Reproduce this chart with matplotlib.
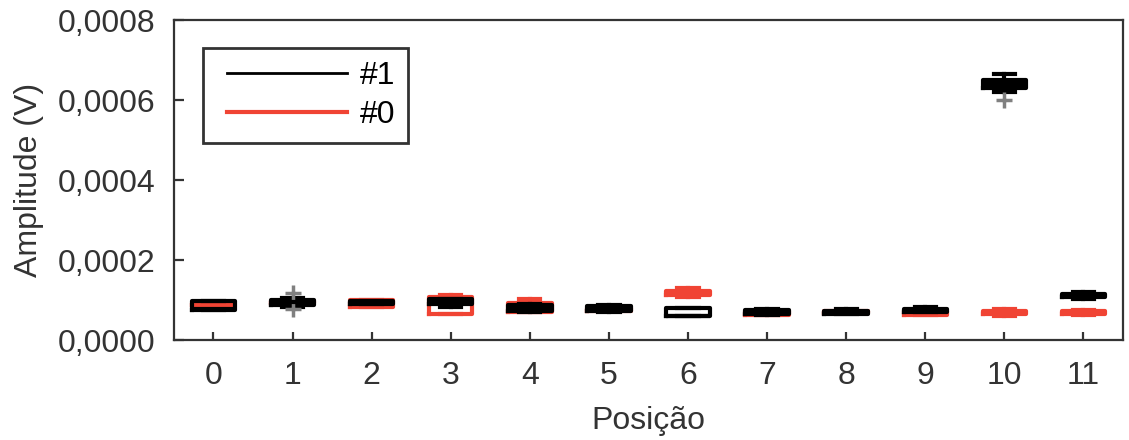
import matplotlib
matplotlib.use("Agg")
import numpy as np
import matplotlib.pyplot as plt
from matplotlib.lines import Line2D
from matplotlib.legend_handler import HandlerLine2D
from matplotlib.ticker import FuncFormatter

positions = list(range(12))
xtick_labels = [str(p) for p in positions]
yticks = [0.0, 0.0002, 0.0004, 0.0006, 0.0008]

# Series "#1" (black)
q1_s1 = [7.6e-5, 8.9e-5, 9.0e-5, 9.0e-5, 7.25e-5, 7.25e-5, 6.0e-5, 6.5e-5, 6.6e-5, 7.0e-5, 6.29e-4, 1.075e-4]
med_s1 = [7.8e-5, 9.5e-5, 9.4e-5, 9.6e-5, 8.0e-5, 7.9e-5, 6.0e-5, 7.0e-5, 7.0e-5, 7.3e-5, 6.40e-4, 1.11e-4]
q3_s1 = [9.9e-5, 1.0e-4, 9.75e-5, 1.03e-4, 8.75e-5, 8.5e-5, 8.0e-5, 7.5e-5, 7.4e-5, 7.75e-5, 6.51e-4, 1.15e-4]
lo_s1 = [7.6e-5, 8.4e-5, 9.0e-5, 8.4e-5, 7.0e-5, 7.0e-5, 6.0e-5, 6.2e-5, 6.6e-5, 7.0e-5, 6.19e-4, 1.03e-4]
hi_s1 = [9.9e-5, 1.05e-4, 9.75e-5, 1.03e-4, 9.0e-5, 8.8e-5, 8.0e-5, 7.8e-5, 7.9e-5, 8.4e-5, 6.66e-4, 1.2e-4]
out_s1 = [[], [1.19e-4, 7.7e-5], [], [], [], [], [], [], [], [], [6.01e-4], []]

# Series "#0" (red)
q1_s0 = [8.9e-5, 9.2e-5, 8.4e-5, 6.5e-5, 7.0e-5, 7.2e-5, 1.12e-4, 6.4e-5, 6.8e-5, 6.4e-5, 6.5e-5, 6.6e-5]
med_s0 = [8.9e-5, 9.5e-5, 9.3e-5, 9.6e-5, 8.2e-5, 7.6e-5, 1.17e-4, 6.8e-5, 7.1e-5, 6.9e-5, 6.9e-5, 6.9e-5]
q3_s0 = [8.9e-5, 9.9e-5, 1.0e-4, 1.07e-4, 9.4e-5, 8.0e-5, 1.22e-4, 7.2e-5, 7.4e-5, 7.3e-5, 7.25e-5, 7.2e-5]
lo_s0 = [8.9e-5, 9.2e-5, 8.4e-5, 6.5e-5, 7.0e-5, 7.2e-5, 1.09e-4, 6.4e-5, 6.8e-5, 6.4e-5, 6.0e-5, 6.3e-5]
hi_s0 = [8.9e-5, 9.9e-5, 1.0e-4, 1.14e-4, 1.03e-4, 8.0e-5, 1.30e-4, 7.2e-5, 7.4e-5, 7.3e-5, 7.75e-5, 7.5e-5]
out_s0 = [[] for _ in positions]

BLACK = "#000000"
RED = "#F04434"
GRAY = "#808080"
DARK = "#333333"
FS = 23

plt.rcParams['font.family'] = ['Liberation Sans', 'DejaVu Sans']

fig = plt.figure(figsize=(11.29, 4.40), dpi=100)
ax = fig.add_axes([0.154, 0.227, 0.8407, 0.7275])


def stats(q1, med, q3, lo, hi, out):
    return [dict(q1=a, med=b, q3=c, whislo=d, whishi=e, fliers=f)
            for a, b, c, d, e, f in zip(q1, med, q3, lo, hi, out)]


def draw(st, color, z):
    lw = 3.0
    ax.bxp(st, positions=positions, widths=0.55, capwidths=0.27,
           showfliers=True, patch_artist=False,
           boxprops=dict(color=color, linewidth=lw),
           medianprops=dict(color=color, linewidth=lw),
           whiskerprops=dict(color=color, linewidth=lw),
           capprops=dict(color=color, linewidth=lw),
           flierprops=dict(marker='+', markeredgecolor=GRAY, markersize=11,
                           markeredgewidth=2.5, linestyle='none'),
           zorder=z)


draw(stats(q1_s0, med_s0, q3_s0, lo_s0, hi_s0, out_s0), RED, 2)
draw(stats(q1_s1, med_s1, q3_s1, lo_s1, hi_s1, out_s1), BLACK, 3)

ax.set_xlim(-0.5, 11.5)
ax.set_ylim(0, 0.0008)
ax.set_xticks(positions)
ax.set_xticklabels(xtick_labels)
ax.set_yticks(yticks)
ax.yaxis.set_major_formatter(FuncFormatter(lambda v, p: f"{v:.4f}".replace('.', ',')))

for s in ax.spines.values():
    s.set_color(DARK)
    s.set_linewidth(1.6)

ax.tick_params(axis='both', direction='in', color=DARK, width=1.6,
               labelsize=FS, labelcolor=DARK)
ax.tick_params(axis='x', length=6, pad=15)
ax.tick_params(axis='y', length=7, pad=13)

ax.set_xlabel("Posição", fontsize=FS, color=DARK, labelpad=11)
ax.set_ylabel("Amplitude (V)", fontsize=FS, color=DARK, labelpad=10)


class PaddedLine(HandlerLine2D):
    def get_xdata(self, legend, xdescent, ydescent, width, height, fontsize):
        x = np.array([-xdescent + 8, -xdescent + width])
        return x, x


handles = [Line2D([0], [0], color=BLACK, linewidth=2),
           Line2D([0], [0], color=RED, linewidth=3)]
leg = ax.legend(handles, ["#1", "#0"], loc='upper left',
                bbox_to_anchor=(0.0306, 0.9125), borderaxespad=0,
                fontsize=FS, handlelength=4.1, handletextpad=0.4,
                labelspacing=0.3, borderpad=0.4, fancybox=False,
                framealpha=1, handler_map={Line2D: PaddedLine()})
leg.get_frame().set_edgecolor(DARK)
leg.get_frame().set_linewidth(2)
for t in leg.get_texts():
    t.set_color('black')

fig.savefig("out.png", dpi=100)
